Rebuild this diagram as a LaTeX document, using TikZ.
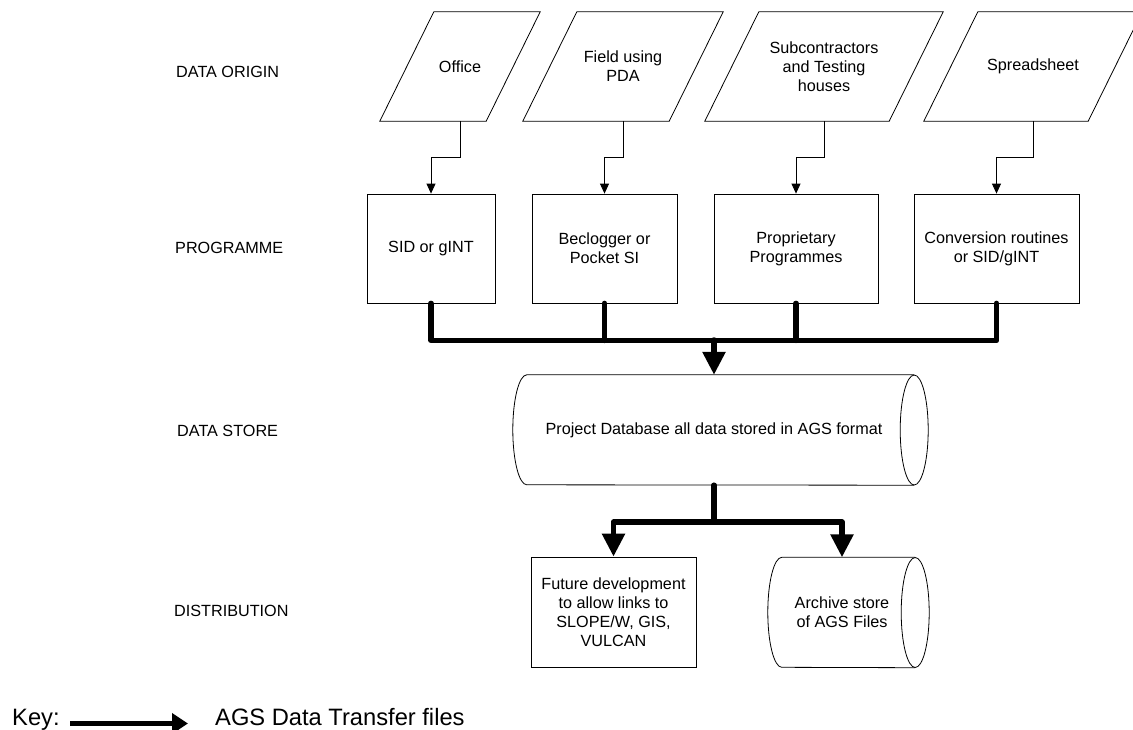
\documentclass[tikz,border=0pt]{standalone}
\usepackage{fontspec}
\setmainfont{Liberation Sans}
\usetikzlibrary{arrows.meta}

\begin{document}
\begin{tikzpicture}[x=1pt,y=-1pt,
  every node/.style={font=\fontsize{16.2}{19}\selectfont},
  outline/.style={line width=0.8pt,line join=miter},
  origin/.style={rectangle,minimum height=109pt,align=center},
  prog/.style={rectangle,draw,minimum height=109pt,align=center,line width=0.8pt},
  store/.style={rectangle,minimum height=110pt,align=center},
  stage/.style={anchor=west,inner sep=0pt},
  keytext/.style={anchor=base west,inner sep=0pt,font=\fontsize{23.7}{28}\selectfont},
  thinarrow/.style={-{Triangle[width=9pt,length=10pt]},line width=0.8pt},
  bus/.style={line width=5.5pt,line cap=round,line join=round},
  busarrow/.style={bus,-{Triangle[width=22pt,length=23pt]}}]
\useasboundingbox (0,0) rectangle (1133,729);
% stages
\node[stage] (lorigin) at (176,72) {DATA ORIGIN};
\node[stage] (lprog) at (175,248) {PROGRAMME};
\node[stage] (lstore) at (177,431) {DATA STORE};
\node[stage] (ldist) at (174,611) {DISTRIBUTION};
% data origin
\node[origin,minimum width=106pt] (office) at (460,66.5) {Office};
\node[origin,minimum width=146pt] (field) at (623,66.5) {Field using\\PDA};
\node[origin,minimum width=184pt] (sub) at (824,66.5) {Subcontractors\\and Testing\\houses};
\node[origin,minimum width=164pt] (sheet) at (1033,66.5) {Spreadsheet};
\foreach \n in {office,field,sub,sheet}
  \draw[outline] ([xshift=-27pt]\n.south west) -- ([xshift=-27pt]\n.south east)
    -- ([xshift=27pt]\n.north east) -- ([xshift=27pt]\n.north west) -- cycle;
% programmes
\node[prog,minimum width=128pt] (sid) at (431,248.5) {SID or gINT};
\node[prog,minimum width=145pt] (bec) at (604.5,248.5) {Beclogger or\\Pocket SI};
\node[prog,minimum width=164pt] (prop) at (796,248.5) {Proprietary\\Programmes};
\node[prog,minimum width=165pt] (conv) at (996.5,248.5) {Conversion routines\\or SID/gINT};
% store and distribution
\node[store,minimum width=387pt] (db) at (714,430) {Project Database all data stored in AGS format};
\node[prog,minimum width=165pt,minimum height=110pt] (future) at (613.5,612) {Future development\\to allow links to\\SLOPE/W, GIS,\\VULCAN};
\node[store,minimum width=133pt] (archive) at (842,612.5) {Archive store\\of AGS Files};
\foreach \n in {db,archive}{
  \draw[outline] ([xshift=6.5pt]\n.east) ellipse [x radius=14pt,y radius=55pt];
  \draw[outline] ([xshift=6.5pt]\n.north east) -- ([xshift=6.5pt]\n.north west)
    arc[start angle=90,end angle=270,x radius=14pt,y radius=55pt] -- ([xshift=6.5pt]\n.south east);
}
% connectors
\foreach \from/\to in {office/sid,field/bec,sub/prop,sheet/conv}
  \draw[thinarrow] (\from.south) -- ++(0,36) -| (\to.north);
\draw[bus] (sid.south) -- ++(0,37) -| (conv.south);
\foreach \p in {bec,prop}
  \draw[bus] (\p.south) -- ++(0,37);
\coordinate (hub) at (714,340);
\draw[busarrow] (hub) -- (db.north);
\coordinate (split) at (714,522);
\draw[bus] (db.south) -- (split);
\draw[busarrow] (split) -| (future.north);
\draw[busarrow] (split) -| (archive.north);
% key
\node[keytext] (key) at (12,725) {Key:};
\coordinate (keyfrom) at (70,723.5);
\coordinate (keyto) at (188,723.5);
\draw[bus,line cap=butt,-{Triangle[width=20pt,length=16pt]}] (keyfrom) -- (keyto);
\node[keytext] (keylabel) at (215,725) {AGS Data Transfer files};
\end{tikzpicture}
\end{document}
